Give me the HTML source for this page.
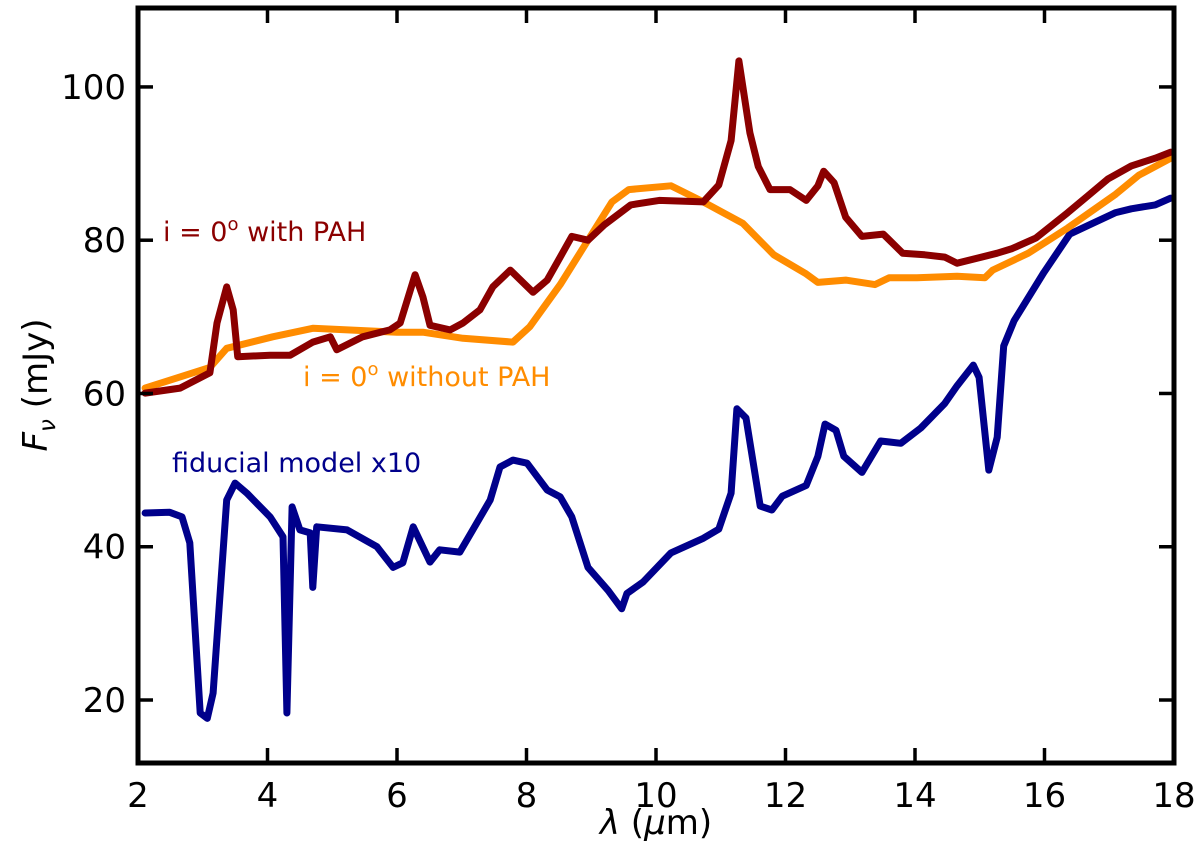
<!DOCTYPE html>
<html><head><meta charset="utf-8"><style>
html,body{margin:0;padding:0;background:#fff;}
svg text{font-family:"DejaVu Sans","Liberation Sans",sans-serif;}
</style></head><body>
<svg id="chart" width="1200" height="841" xmlns="http://www.w3.org/2000/svg">
<g id="series"></g>
<g id="axes"></g>
<text x="163" y="241" font-size="27" fill="#8b0000">i = 0<tspan dy="-11" font-size="18">o</tspan><tspan dy="11"> with PAH</tspan></text>
<text x="303" y="386" font-size="27" fill="#ff8c00">i = 0<tspan dy="-11" font-size="18">o</tspan><tspan dy="11"> without PAH</tspan></text>
<text x="172" y="472" font-size="27" fill="#00008b">fiducial model x10</text>
<text x="656" y="834" font-size="34" text-anchor="middle"><tspan font-style="italic">λ</tspan> (<tspan font-style="italic">μ</tspan>m)</text>
<text transform="translate(47,385) rotate(-90)" font-size="34" text-anchor="middle"><tspan font-style="italic">F</tspan><tspan font-style="italic" font-size="23" dy="8">ν</tspan><tspan dy="-8"> (mJy)</tspan></text>
</svg>
<script>
const pahX=[2.11,2.65,3.11,3.22,3.37,3.47,3.54,4.04,4.35,4.70,4.97,5.07,5.47,5.89,6.05,6.28,6.40,6.51,6.82,7.02,7.28,7.48,7.75,8.10,8.32,8.52,8.70,8.95,9.20,9.61,10.05,10.73,10.97,11.16,11.28,11.45,11.58,11.76,12.07,12.32,12.50,12.59,12.75,12.93,13.18,13.51,13.81,14.15,14.46,14.65,15.27,15.50,15.87,16.36,16.67,16.98,17.34,17.71,17.95];
const pahY=[60.05,60.7,62.7,69.2,73.9,70.9,64.8,65.0,65.0,66.7,67.4,65.7,67.4,68.3,69.2,75.5,72.6,68.9,68.3,69.2,70.9,73.9,76.1,73.2,74.8,77.8,80.5,80.0,82.0,84.6,85.2,85.0,87.2,93.0,103.4,94.0,89.6,86.6,86.6,85.2,87.1,89.0,87.5,83.0,80.5,80.8,78.3,78.1,77.8,77.0,78.3,78.9,80.3,83.6,85.8,88.0,89.7,90.7,91.5];
const noPahX=[2.11,3.11,3.37,4.08,4.70,6.00,6.40,7.02,7.79,8.05,8.52,8.95,9.32,9.58,10.23,10.73,11.34,11.82,12.32,12.50,12.93,13.38,13.60,14.03,14.65,15.08,15.20,15.75,16.36,17.10,17.46,17.95];
const noPahY=[60.7,63.4,65.9,67.4,68.5,68.0,68.0,67.2,66.7,68.7,74.2,80.0,85.0,86.6,87.1,85.0,82.2,78.1,75.6,74.5,74.8,74.2,75.1,75.1,75.3,75.1,76.1,78.3,81.6,86.0,88.5,90.7];
const fidX=[2.11,2.49,2.68,2.80,2.96,3.07,3.16,3.37,3.50,3.68,4.04,4.24,4.30,4.38,4.50,4.66,4.70,4.76,5.23,5.69,5.94,6.09,6.25,6.51,6.66,6.97,7.17,7.44,7.59,7.79,8.01,8.32,8.52,8.70,8.95,9.26,9.47,9.55,9.80,10.23,10.73,10.97,11.16,11.25,11.39,11.61,11.79,11.95,12.32,12.50,12.61,12.78,12.90,13.18,13.47,13.78,14.09,14.46,14.65,14.90,14.99,15.14,15.27,15.37,15.53,15.99,16.39,16.67,17.10,17.34,17.71,17.95];
const fidY=[44.4,44.5,43.9,40.5,18.3,17.6,20.9,46.1,48.3,47.0,43.9,41.3,18.3,45.2,42.2,41.8,34.7,42.6,42.2,40.0,37.3,37.9,42.6,38.0,39.6,39.3,42.2,46.1,50.4,51.3,50.9,47.4,46.5,43.9,37.3,34.3,31.9,33.9,35.4,39.2,41.1,42.3,47.0,58.0,56.8,45.3,44.8,46.6,48.0,51.8,56.0,55.2,51.8,49.7,53.8,53.5,55.5,58.7,61.0,63.7,62.1,50.0,54.3,66.2,69.5,75.8,80.8,81.9,83.6,84.1,84.6,85.5];
const xTicks=[2,4,6,8,10,12,14,16,18];
const yTicks=[20,40,60,80,100];

const L=138,R=1174,T=8,B=763;
const X0=2,X1=18,Y0=11.78,Y1=110.3;
function sx(v){return L+(v-X0)/(X1-X0)*(R-L);}
function sy(v){return B-(v-Y0)/(Y1-Y0)*(B-T);}
const NS='http://www.w3.org/2000/svg';
const sg=document.getElementById('series'),ag=document.getElementById('axes');
function line(xs,ys,color,name){
  const p=document.createElementNS(NS,'polyline');
  p.setAttribute('points',xs.map((x,i)=>sx(x).toFixed(1)+','+sy(ys[i]).toFixed(1)).join(' '));
  p.setAttribute('fill','none');p.setAttribute('stroke',color);p.setAttribute('stroke-width','7');
  p.setAttribute('stroke-linejoin','round');p.setAttribute('stroke-linecap','round');
  
  
  sg.appendChild(p);
}
line(fidX,fidY,'#00008b','line-fiducial');
line(noPahX,noPahY,'#ff8c00','line-without-pah');
line(pahX,pahY,'#8b0000','line-with-pah');
function el(tag,attrs){const e=document.createElementNS(NS,tag);for(const k in attrs)e.setAttribute(k,attrs[k]);ag.appendChild(e);return e;}
xTicks.forEach(v=>{
  const x=sx(v);
  const t1=el('line',{x1:x,x2:x,y1:B,y2:B-15,stroke:'#000','stroke-width':3.5});
  
  
  const t2=el('line',{x1:x,x2:x,y1:T,y2:T+15,stroke:'#000','stroke-width':3.5});
  
  
  const lb=el('text',{x:x,y:B+44,'font-size':34,'text-anchor':'middle'});lb.textContent=v;
  
  
});
yTicks.forEach(v=>{
  const y=sy(v);
  const t1=el('line',{x1:L,x2:L+15,y1:y,y2:y,stroke:'#000','stroke-width':3.5});
  
  
  const t2=el('line',{x1:R,x2:R-15,y1:y,y2:y,stroke:'#000','stroke-width':3.5});
  
  
  const lb=el('text',{x:L-12,y:y+12,'font-size':34,'text-anchor':'end'});lb.textContent=v;
  
  
});
const fr=el('rect',{x:L,y:T,width:R-L,height:B-T,fill:'none',stroke:'#000','stroke-width':5});


</script>
</body></html>
